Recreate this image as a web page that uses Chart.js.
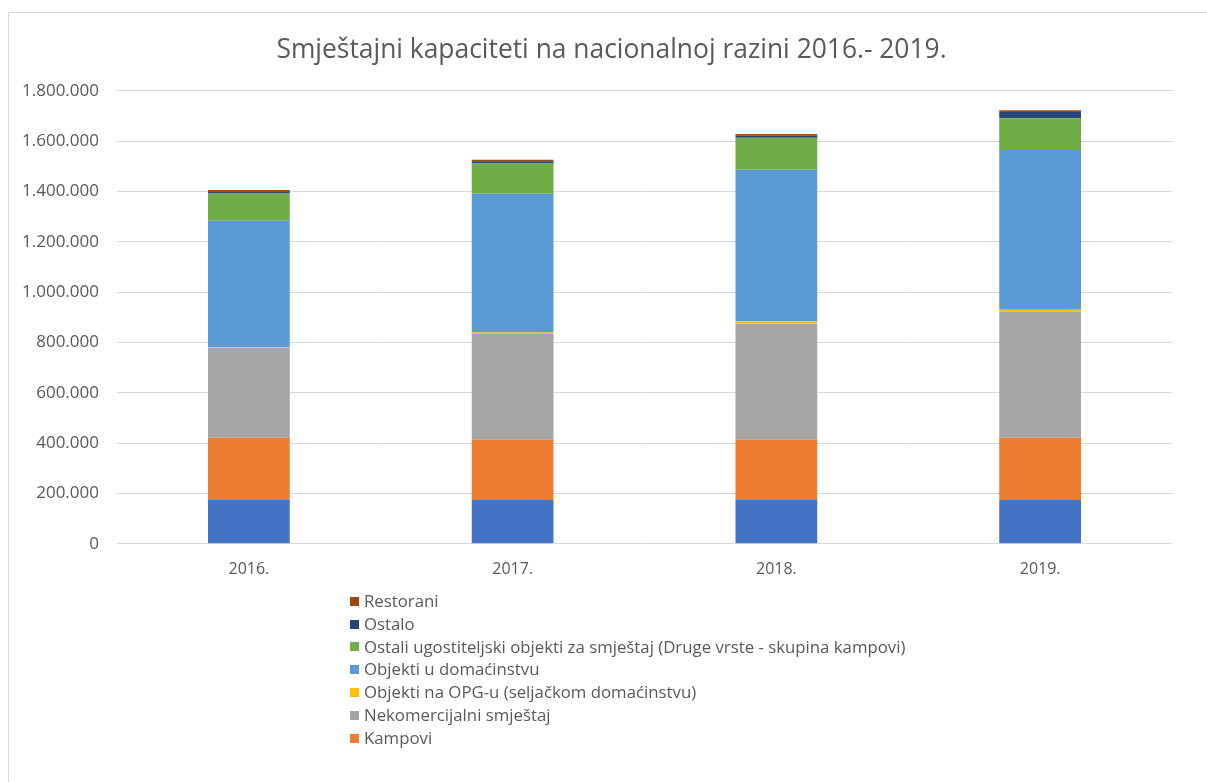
<!DOCTYPE html>
<html>
<head>
<meta charset="utf-8">
<script src="https://cdn.jsdelivr.net/npm/chart.js@4.4.1/dist/chart.umd.min.js"></script>
<style>
  html, body { margin: 0; padding: 0; background: #fff; }
  #wrap { position: relative; width: 1207px; height: 782px; overflow: hidden; background: #fff; }
  #frame { position: absolute; left: 8px; top: 12px; width: 1300px; height: 900px; border: 1px solid #d9d9d9; box-sizing: border-box; }
  #cbox { position: absolute; left: 0; top: 0; width: 1207px; height: 590px; }
  #legend { position: absolute; left: 350px; top: 590px; font-family: "Open Sans", sans-serif; font-size: 16.8px; color: #595959; }
  .li { height: 22.8px; line-height: 22.8px; display: flex; align-items: center; white-space: nowrap; }
  .sw { width: 9px; height: 9px; margin-right: 5px; flex: none; }
</style>
</head>
<body>
<div id="wrap">
  <div id="frame"></div>
  <div id="cbox"><canvas id="c"></canvas></div>
  <div id="legend"></div>
</div>
<script>
const categories = ["2016.", "2017.", "2018.", "2019."];
const osnovni = [174000, 174000, 174000, 174000];
const kampovi = [247000, 239000, 239000, 247000];
const nekomercijalni = [357000, 420000, 462000, 501000];
const opg = [2000, 6000, 8000, 8000];
const domacinstvo = [503000, 552000, 603000, 634000];
const ostaliUgostiteljski = [109000, 120000, 127000, 126000];
const ostalo = [8000, 9000, 9000, 25000];
const restorani = [5000, 6000, 6000, 7000];
const yTicks = [0, 200000, 400000, 600000, 800000, 1000000, 1200000, 1400000, 1600000, 1800000];

const seriesNames = [
  "Hoteli",
  "Kampovi",
  "Nekomercijalni smještaj",
  "Objekti na OPG-u (seljačkom domaćinstvu)",
  "Objekti u domaćinstvu",
  "Ostali ugostiteljski objekti za smještaj (Druge vrste - skupina kampovi)",
  "Ostalo",
  "Restorani"
];
const seriesData = [osnovni, kampovi, nekomercijalni, opg, domacinstvo, ostaliUgostiteljski, ostalo, restorani];
const seriesColors = ["#4472C4", "#ED7D31", "#A5A5A5", "#FFC000", "#5B9BD5", "#70AD47", "#264478", "#9E480E"];
const inLegend = [false, true, true, true, true, true, true, true];

function fmt(v) {
  return String(v).replace(/\B(?=(\d{3})+(?!\d))/g, ".");
}

const datasets = seriesNames.map((n, i) => ({
  label: n,
  data: seriesData[i],
  backgroundColor: seriesColors[i],
  borderWidth: 0,
  categoryPercentage: 1.0,
  barPercentage: 0.31
}));

const titleShift = {
  id: "titleShift",
  afterLayout(c) {
    if (c.titleBlock) { c.titleBlock.left = 51; }
  }
};

const chart = new Chart(document.getElementById("c"), {
  type: "bar",
  data: { labels: categories, datasets: datasets },
  plugins: [titleShift],
  options: {
    responsive: true,
    maintainAspectRatio: false,
    animation: false,
    layout: { padding: { left: 0, right: 35, top: 0, bottom: 3 } },
    plugins: {
      legend: { display: false },
      tooltip: { enabled: false },
      title: {
        display: true,
        text: "Smještajni kapaciteti na nacionalnoj razini 2016.- 2019.",
        color: "#595959",
        font: { family: "Open Sans", size: 26.4, weight: "normal" },
        padding: { top: 35, bottom: 24 }
      }
    },
    scales: {
      x: {
        stacked: true,
        grid: { display: false },
        border: { display: false },
        ticks: { color: "#595959", font: { family: "Open Sans", size: 16 }, padding: 8 }
      },
      y: {
        stacked: true,
        min: 0,
        max: 1800000,
        afterBuildTicks: (s) => { s.ticks = yTicks.map(v => ({ value: v })); },
        afterFit: (s) => { s.width = 117; },
        grid: { color: "#d9d9d9", lineWidth: 1, drawTicks: false },
        border: { display: false },
        ticks: { color: "#595959", font: { family: "Open Sans", size: 17 }, padding: 18, callback: (v) => fmt(v) }
      }
    }
  }
});

const leg = document.getElementById("legend");
for (let i = seriesNames.length - 1; i >= 0; i--) {
  if (!inLegend[i]) continue;
  const row = document.createElement("div");
  row.className = "li";
  const sw = document.createElement("span");
  sw.className = "sw";
  sw.style.background = seriesColors[i];
  const tx = document.createElement("span");
  tx.textContent = seriesNames[i];
  row.appendChild(sw);
  row.appendChild(tx);
  leg.appendChild(row);
}
</script>
</body>
</html>
